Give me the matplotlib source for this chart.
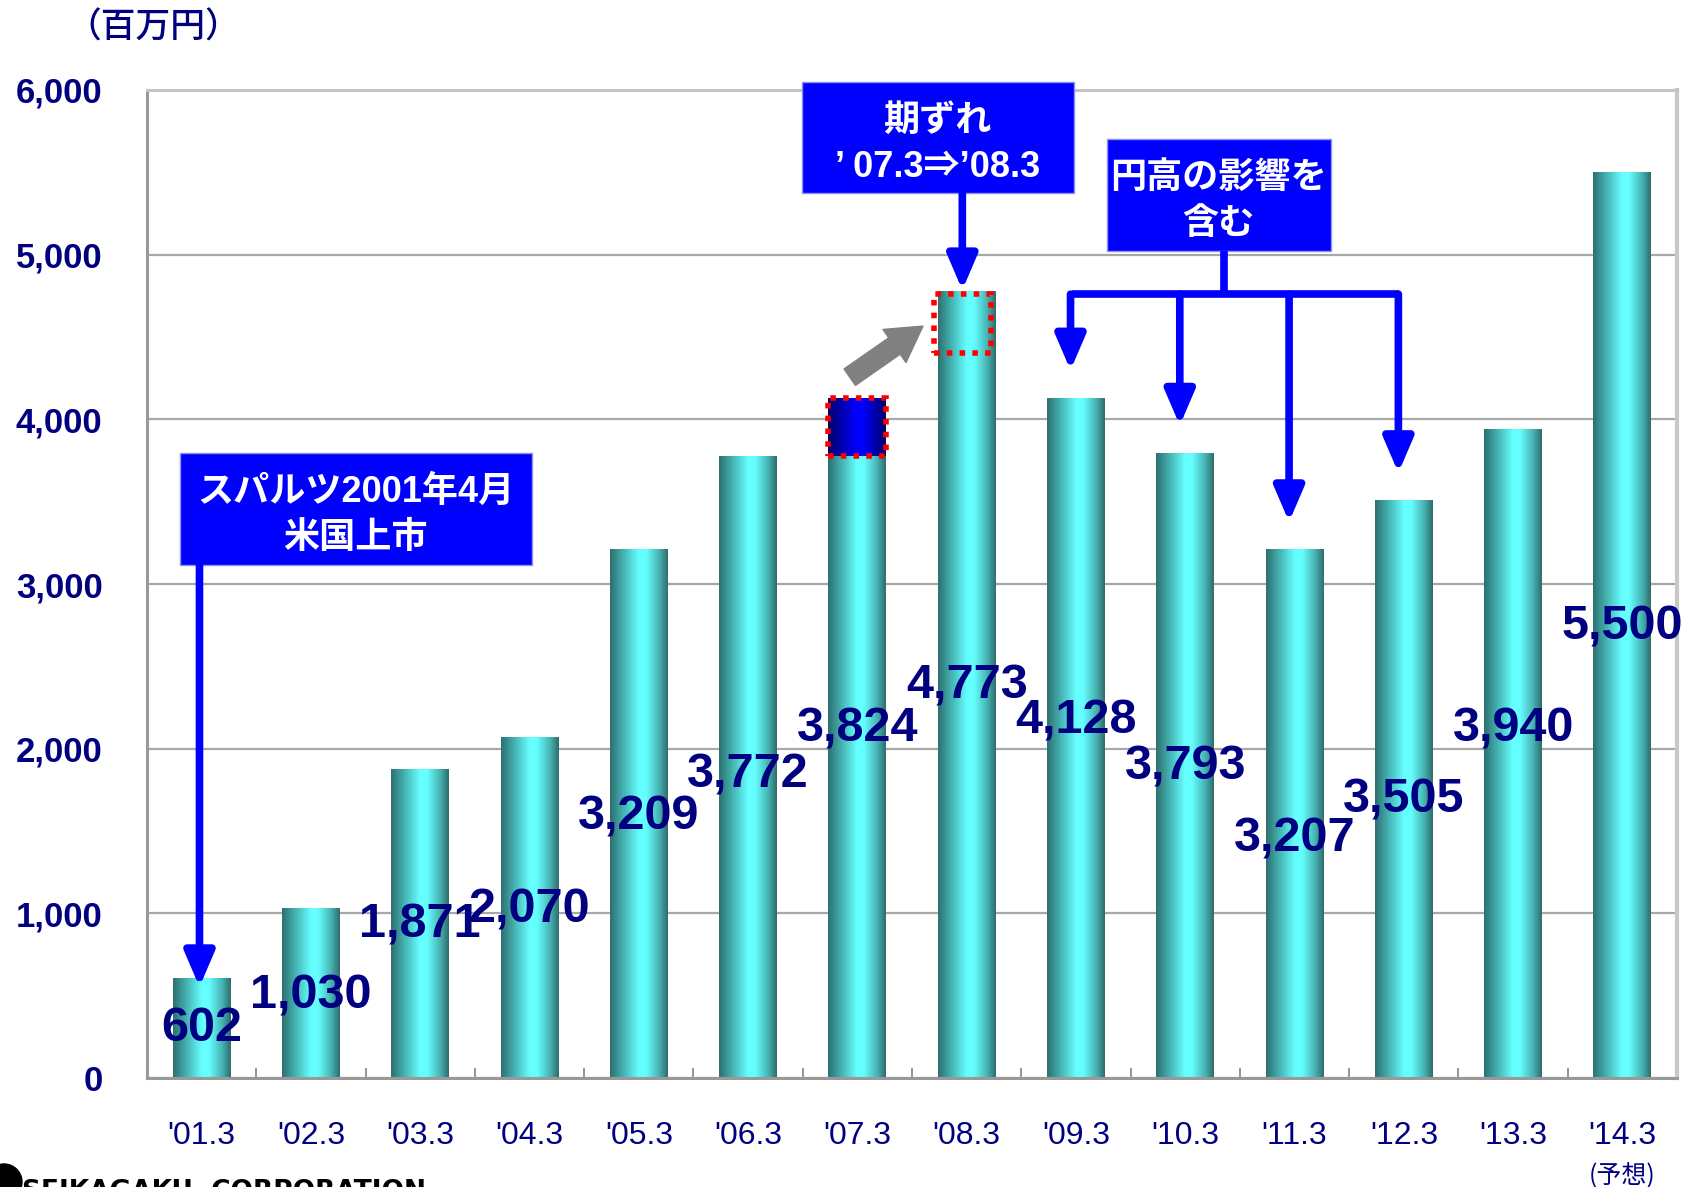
import numpy as np
import matplotlib
matplotlib.use("Agg")
import matplotlib.pyplot as plt
from matplotlib.colors import LinearSegmentedColormap
from matplotlib.patches import Rectangle, Ellipse

# data (百万円)
periods = ["'01.3", "'02.3", "'03.3", "'04.3", "'05.3", "'06.3", "'07.3",
           "'08.3", "'09.3", "'10.3", "'11.3", "'12.3", "'13.3", "'14.3"]
sales = [602, 1030, 1871, 2070, 3209, 3772, 3824,
         4773, 4128, 3793, 3207, 3505, 3940, 5500]
# part of '07.3 shifted into '08.3
shift_from = (3780, 4130)
shift_to = (4400, 4760)
yen_bars = [8, 9, 10, 11]

# where the value labels sit (layout, not data)
label_y = [300, 500, 930, 1020, 1585, 1840, 2120,
           2380, 2170, 1890, 1450, 1690, 2120, 2740]

NAVY = "#000080"
BLUE = "#0000FF"
NUM_FONT = ["Liberation Sans Narrow", "Liberation Sans"]
JP_FONT = ["Liberation Sans", "Noto Sans CJK JP"]

teal = LinearSegmentedColormap.from_list("teal", [
    (0.0, "#2E7070"), (0.18, "#3FA3A3"), (0.5, "#66FFFF"),
    (0.62, "#66FFFF"), (0.85, "#47B3B3"), (1.0, "#2E6C6C")])
deep = LinearSegmentedColormap.from_list("deep", [
    (0.0, "#000068"), (0.5, "#0000FF"), (0.6, "#0000FF"), (1.0, "#000068")])
grad = np.linspace(0, 1, 256).reshape(1, -1)


def gradient_bar(ax, x, bottom, top, cmap, width=0.53, z=2):
    ax.imshow(grad, extent=[x - width / 2, x + width / 2, bottom, top],
              aspect="auto", cmap=cmap, origin="lower", zorder=z)


def blue_box(ax, x0, x1, y0, y1, text):
    ax.add_patch(Rectangle((x0, y0), x1 - x0, y1 - y0, facecolor=BLUE,
                           edgecolor="#9090F0", lw=1, zorder=6, clip_on=False))
    # text sits a little below the box centre, as in the slide
    ax.text((x0 + x1) / 2, (y0 + y1) / 2 - 40, text, color="white",
            fontsize=26, fontweight="bold", family=JP_FONT, ha="center",
            va="center", linespacing=1.4, zorder=7, clip_on=False)


def blue_arrow(ax, x0, y0, x1, y1):
    ax.annotate("", xy=(x1, y1), xytext=(x0, y0), zorder=6,
                annotation_clip=False,
                arrowprops=dict(arrowstyle="-|>,head_length=0.7,head_width=0.3",
                                mutation_scale=30, lw=5.5, color=BLUE,
                                shrinkA=0, shrinkB=0))


fig = plt.figure(figsize=(16.86, 11.87), dpi=100)
ax = fig.add_axes([0.0872, 0.0918, 0.9075, 0.8324])

x = np.arange(len(periods))
for i, v in enumerate(sales):
    gradient_bar(ax, x[i], 0, v, teal)

# shifted part on '07.3 and its new place on '08.3
gradient_bar(ax, x[6], shift_from[0], shift_from[1], deep, z=3)
ax.add_patch(Rectangle((x[6] - 0.265, shift_from[0]), 0.53,
                       shift_from[1] - shift_from[0], fill=False,
                       edgecolor="red", lw=4, linestyle=(0, (1, 1.3)), zorder=4))
ax.add_patch(Rectangle((x[7] - 0.30, shift_to[0]), 0.52,
                       shift_to[1] - shift_to[0], fill=False,
                       edgecolor="red", lw=4, linestyle=(0, (1, 1.3)), zorder=4))
ax.annotate("", xy=(6.60, 4566), xytext=(5.93, 4256), zorder=5,
            arrowprops=dict(arrowstyle="simple,head_length=1.25,head_width=1.45,tail_width=0.72",
                            mutation_scale=20, color="#808080",
                            shrinkA=0, shrinkB=0))

for i, v in enumerate(sales):
    ax.text(x[i], label_y[i], f"{v:,}", color=NAVY, fontsize=35,
            fontweight="bold", family=NUM_FONT, ha="center", va="center",
            zorder=8, clip_on=False)

# callouts
blue_box(ax, -0.20, 3.02, 3115, 3795, "スパルツ2001年4月\n米国上市")
blue_arrow(ax, -0.02, 3115, -0.02, 553)

blue_box(ax, 5.49, 7.98, 5373, 6047, "期ずれ\n’ 07.3⇒’08.3")
blue_arrow(ax, 6.96, 5373, 6.96, 4785)

blue_box(ax, 8.28, 10.33, 5022, 5702, "円高の影響を\n含む")
ax.plot([9.35, 9.35], [5022, 4760], color=BLUE, lw=5.5, zorder=6,
        solid_capstyle="butt")
ax.plot([7.99 - 0.03, 10.93 + 0.03], [4760, 4760], color=BLUE, lw=5.5,
        zorder=6, solid_capstyle="butt")
for i in yen_bars:
    blue_arrow(ax, x[i] - 0.05, 4760, x[i] - 0.05, sales[i] + 170)

# axes styling
ax.set_xlim(-0.5, len(periods) - 0.5)
ax.set_ylim(0, 6000)
ax.set_yticks(np.arange(0, 6001, 1000))
ax.set_yticklabels([f"{t:,}" for t in range(0, 6001, 1000)])
ax.yaxis.grid(True, color="#A8A8A8", lw=1.6, zorder=1)
ax.set_axisbelow(True)
ax.tick_params(axis="y", length=0, pad=32, labelsize=25, labelcolor=NAVY)
for lab in ax.get_yticklabels():
    lab.set_fontweight("bold")
    lab.set_family("Liberation Sans")

ax.set_xticks(x)
ax.set_xticklabels(periods)
ax.tick_params(axis="x", which="major", length=0, pad=31, labelsize=23,
               labelcolor=NAVY)
for lab in ax.get_xticklabels():
    lab.set_family(NUM_FONT)
ax.set_xticks(np.arange(-0.5, len(periods)), minor=True)
ax.tick_params(axis="x", which="minor", direction="in", length=7,
               width=1.5, color="#999999")

ax.spines["left"].set_color("#999999")
ax.spines["bottom"].set_color("#999999")
ax.spines["left"].set_linewidth(2.2)
ax.spines["bottom"].set_linewidth(2.2)
ax.spines["top"].set_color("#C4C4C4")
ax.spines["right"].set_color("#C8C8C8")
ax.spines["top"].set_linewidth(2.2)
ax.spines["right"].set_linewidth(3)

ax.text(13, -0.098, "(予想)", transform=ax.get_xaxis_transform(),
        ha="center", va="center", fontsize=18, color=NAVY,
        family="Noto Sans CJK JP", clip_on=False)

fig.text(153 / 1686, 1 - 28 / 1187, "（百万円）", ha="center", va="center",
         fontsize=25, color=NAVY, family="Noto Sans CJK JP", fontweight="medium")

# company logo, cut off at the bottom of the page
fig.patches.append(Ellipse((4 / 1686, 1 - 1182 / 1187), 36 / 1686, 36 / 1187,
                           transform=fig.transFigure, color="black"))
fig.text(22 / 1686, 1 - 1179 / 1187, "SEIKAGAKU  CORPORATION", ha="left",
         va="top", fontsize=19, fontweight="bold", color="black",
         family="DejaVu Sans")

fig.savefig("out.png", dpi=100)
